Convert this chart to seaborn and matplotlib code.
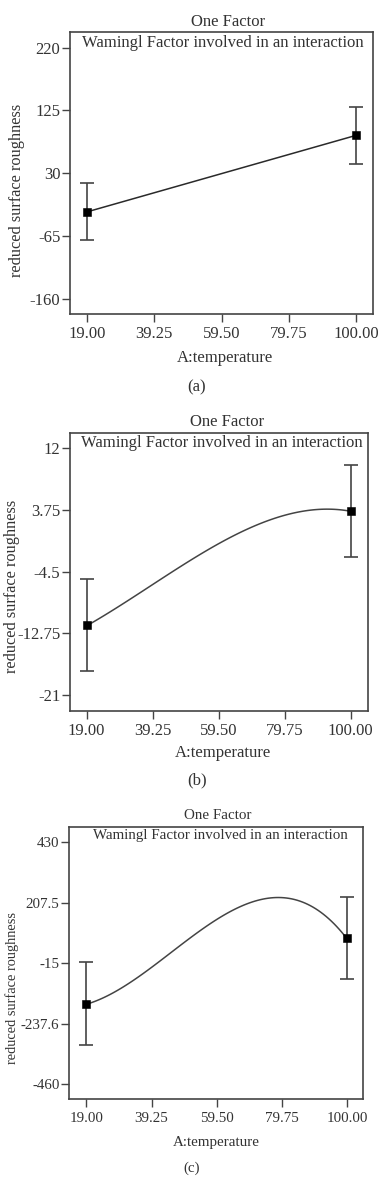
import numpy as np
import pandas as pd
import seaborn as sns
import matplotlib
matplotlib.use("Agg")
import matplotlib.pyplot as plt

# ---------------- data ----------------
temp = [19.0, 100.0]

a_mean = [-28.5, 87.3]
a_err = [43.0, 43.0]

b_mean = [-11.63, 3.62]
b_err = [6.1, 6.1]
b_curve_x = [19.0, 29.2, 39.25, 49.6, 59.5, 69.9, 79.75, 89.4, 100.0]
b_curve_y = [-11.63, -9.31, -6.14, -3.25, -0.66, 1.47, 2.99, 3.79, 3.62]

c_mean = [-163.7, 78.4]
c_err = [152.0, 152.0]
c_curve_x = [19.0, 28.9, 39.25, 49.4, 59.5, 69.6, 79.75, 89.9, 100.0]
c_curve_y = [-163.7, -114.6, -32.2, 57.5, 153.4, 211.2, 223.5, 180.5, 78.4]

x_ticks = [19.0, 39.25, 59.5, 79.75, 100.0]
x_ticklabels = ["19.00", "39.25", "59.50", "79.75", "100.00"]

a_yticks = [220, 125, 30, -65, -160]
a_yticklabels = ["220", "125", "30", "-65", "-160"]
b_yticks = [12, 3.75, -4.5, -12.75, -21]
b_yticklabels = ["12", "3.75", "-4.5", "-12.75", "-21"]
c_yticks = [430, 207.5, -15, -237.6, -460]
c_yticklabels = ["430", "207.5", "-15", "-237.6", "-460"]

title = "One Factor"
warning = "Wamingl Factor involved in an interaction"
xlabel = "A:temperature"
ylabel = "reduced surface roughness"
panel_labels = ["(a)", "(b)", "(c)"]

# ---------------- style ----------------
sns.set_theme(style="ticks")
plt.rcParams["font.family"] = ["Liberation Serif", "DejaVu Serif"]
plt.rcParams["axes.unicode_minus"] = False

TXT = "#333333"
FRAME = "#444444"

W, H = 386, 1180
fig = plt.figure(figsize=(W / 100, H / 100), dpi=100)


def add_axes_px(l, t, r, b):
    return fig.add_axes([l / W, 1 - b / H, (r - l) / W, (b - t) / H])


specs = [
    dict(box=(70, 32, 373, 314), ylim=(-183, 243.7), xlim=(13.9, 105.1),
         yt=a_yticks, ytl=a_yticklabels, mean=a_mean, err=a_err,
         curve=None, title_xy=(0.522, 1.035), warn_xy=(0.505, 0.961),
         ylab_xy=(-0.175, 0.44), xlab_xy=(0.512, -0.156), ylab_fs=11.8,
         fs=12, panel_xy=(197, 387)),
    dict(box=(70, 432.7, 368, 710.7), ylim=(-23.1, 14.1), xlim=(13.9, 105.3),
         yt=b_yticks, ytl=b_yticklabels, mean=b_mean, err=b_err,
         curve=(b_curve_x, b_curve_y), title_xy=(0.527, 1.040), warn_xy=(0.509, 0.964),
         ylab_xy=(-0.196, 0.449), xlab_xy=(0.514, -0.151), ylab_fs=11.8,
         fs=12, panel_xy=(196.7, 780)),
    dict(box=(69.3, 826.7, 363.3, 1099.3), ylim=(-515, 487), xlim=(13.7, 105.0),
         yt=c_yticks, ytl=c_yticklabels, mean=c_mean, err=c_err,
         curve=(c_curve_x, c_curve_y), title_xy=(0.506, 1.040), warn_xy=(0.513, 0.966),
         ylab_xy=(-0.196, 0.408), xlab_xy=(0.501, -0.159), ylab_fs=10.4,
         fs=10.8, panel_xy=(191.7, 1168)),
]

for i, s in enumerate(specs):
    ax = add_axes_px(*s["box"])
    fs = s["fs"]
    if s["curve"] is None:
        sns.lineplot(x=temp, y=s["mean"], ax=ax, color="#2a2a2a", lw=1.1)
    else:
        sns.regplot(x=s["curve"][0], y=s["curve"][1], order=3, ci=None,
                    scatter=False, truncate=True, ax=ax,
                    line_kws=dict(color="#444444", lw=1.1))
    ax.errorbar(temp, s["mean"], yerr=s["err"], fmt="none", ecolor=FRAME,
                elinewidth=1.2, capsize=5, capthick=1.2, zorder=3)
    sns.scatterplot(x=temp, y=s["mean"], ax=ax, marker="s", s=26,
                    color="black", edgecolor="black", zorder=5)

    ax.set_xlim(*s["xlim"])
    ax.set_ylim(*s["ylim"])
    ax.set_xticks(x_ticks)
    ax.set_xticklabels(x_ticklabels)
    ax.set_yticks(s["yt"])
    ax.set_yticklabels(s["ytl"])
    ax.tick_params(direction="out", length=6, width=1.0, color=FRAME,
                   labelsize=fs, labelcolor=TXT, pad=1)
    ax.tick_params(axis="x", pad=3)
    for sp in ax.spines.values():
        sp.set_visible(True)
        sp.set_color(FRAME)
        sp.set_linewidth(1.2)

    ax.text(*s["title_xy"], title, transform=ax.transAxes, ha="center",
            va="center", fontsize=fs, color=TXT)
    ax.text(*s["warn_xy"], warning, transform=ax.transAxes, ha="center",
            va="center", fontsize=fs, color=TXT)
    ax.set_xlabel(xlabel, fontsize=fs, color=TXT, va="center")
    ax.xaxis.set_label_coords(*s["xlab_xy"])
    ax.set_ylabel(ylabel, fontsize=s["ylab_fs"], color=TXT, va="center")
    ax.yaxis.set_label_coords(*s["ylab_xy"])

    px, py = s["panel_xy"]
    fig.text(px / W, 1 - py / H, panel_labels[i], ha="center", va="center",
             fontsize=fs, color=TXT)

fig.savefig("out.png", dpi=100)
